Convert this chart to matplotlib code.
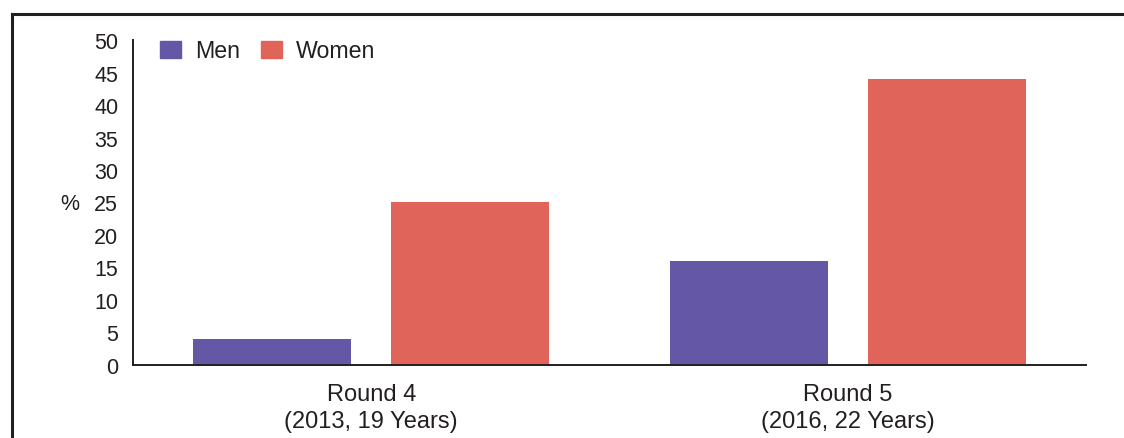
import numpy as np
import matplotlib.pyplot as plt
from matplotlib.lines import Line2D
from matplotlib.patches import Patch

plt.rcParams['font.family'] = ['Liberation Sans', 'DejaVu Sans']

rounds = ['Round 4\n(2013, 19 Years)', 'Round 5\n(2016, 22 Years)']
men = [4, 16]
women = [25, 44]
yticks = [0, 5, 10, 15, 20, 25, 30, 35, 40, 45, 50]

men_color = '#6357a6'
women_color = '#e0645a'
ink = '#231f20'

fig = plt.figure(figsize=(11.24, 4.39), dpi=100)
ax = fig.add_axes([0.1183, 0.1674, 0.8479, 0.7381])

x = np.arange(len(rounds))
width = 0.332
ax.bar(x - 0.208, men, width, color=men_color)
ax.bar(x + 0.208, women, width, color=women_color)

ax.set_xlim(-0.5, 1.5)
ax.set_ylim(0, 50)
ax.set_yticks(yticks)
ax.set_xticks(x)
ax.set_xticklabels(rounds, linespacing=1.31)
ax.tick_params(axis='both', length=0, colors=ink)
ax.tick_params(axis='y', pad=10.6, labelsize=15.5)
ax.tick_params(axis='x', pad=13, labelsize=17)

for side in ['top', 'right']:
    ax.spines[side].set_visible(False)
for side in ['left', 'bottom']:
    ax.spines[side].set_color(ink)
    ax.spines[side].set_linewidth(1.4)

fig.text(70 / 1124, 1 - 205 / 439, '%', fontsize=15.5, color=ink,
         ha='center', va='center')

handles = [Patch(color=men_color, label='Men'),
           Patch(color=women_color, label='Women')]
ax.legend(handles=handles, loc='upper left', ncol=2, frameon=False,
          bbox_to_anchor=(0.0186, 1.032), fontsize=16.7,
          handlelength=0.905, handleheight=0.776, handletextpad=0.6,
          columnspacing=0.9, borderaxespad=0, labelcolor=ink)

# frame lines along the top and left edge
fig.add_artist(Line2D([12 / 1124, 1], [1 - 15 / 439, 1 - 15 / 439],
                      transform=fig.transFigure, color=ink, lw=2.2))
fig.add_artist(Line2D([12 / 1124, 12 / 1124], [0, 1 - 15 / 439],
                      transform=fig.transFigure, color=ink, lw=2.2))

fig.savefig('out.png', dpi=100)
